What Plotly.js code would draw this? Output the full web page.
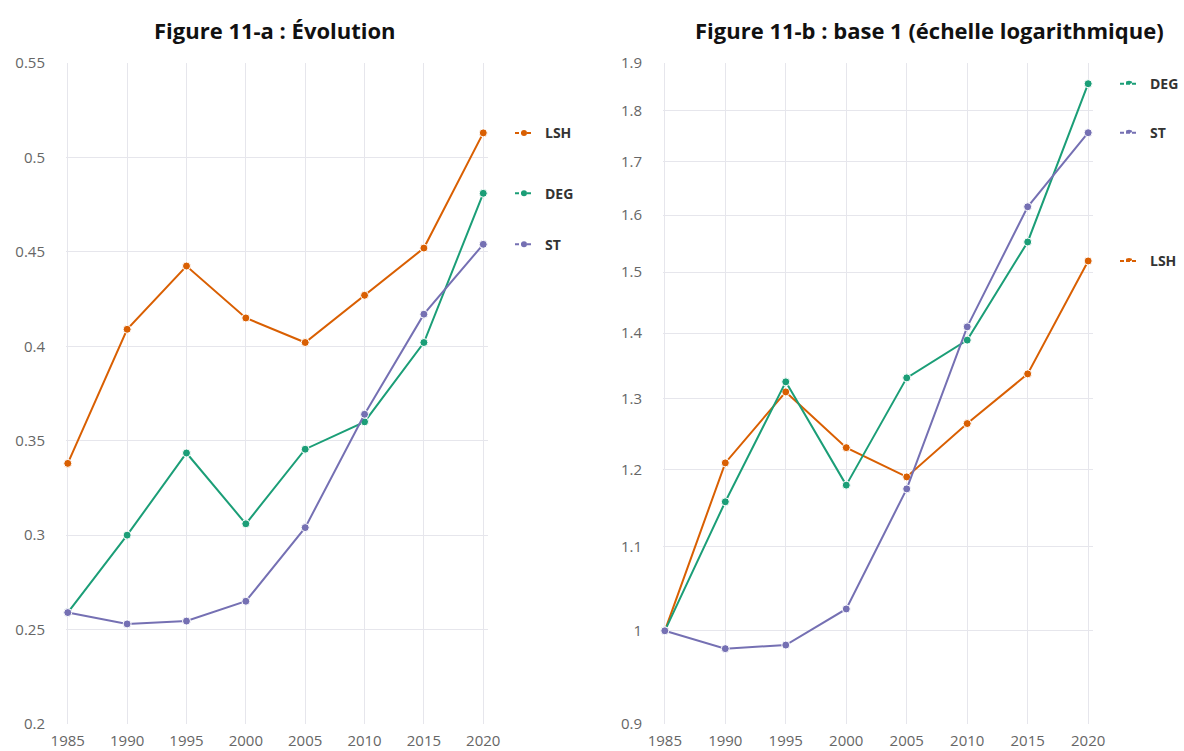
<!DOCTYPE html>
<html>
<head>
<meta charset="utf-8">
<script src="https://cdn.plot.ly/plotly-3.0.1.min.js"></script>
<style>html,body{margin:0;padding:0;background:#fff}#chart{width:1184px;height:751px}</style>
</head>
<body>
<div id="chart"></div>
<script>
const years = [1985, 1990, 1995, 2000, 2005, 2010, 2015, 2020];
// Figure 11-a : levels
const lshLevel = [0.338, 0.409, 0.4425, 0.415, 0.402, 0.427, 0.452, 0.513];
const degLevel = [0.259, 0.300, 0.3435, 0.306, 0.3455, 0.360, 0.402, 0.481];
const stLevel  = [0.259, 0.253, 0.2545, 0.265, 0.304, 0.364, 0.417, 0.454];
// Figure 11-b : base 1 (log)
const lshBase = [1.0, 1.209, 1.310, 1.230, 1.190, 1.264, 1.337, 1.519];
const degBase = [1.0, 1.157, 1.325, 1.179, 1.331, 1.389, 1.552, 1.856];
const stBase  = [1.0, 0.980, 0.984, 1.025, 1.174, 1.410, 1.615, 1.756];

const seriesNames = ['LSH', 'DEG', 'ST'];
const colors = {LSH: '#d95f02', DEG: '#1b9e77', ST: '#7570b3'};
const leftTicks = [0.2, 0.25, 0.3, 0.35, 0.4, 0.45, 0.5, 0.55];
const rightTicks = [0.9, 1, 1.1, 1.2, 1.3, 1.4, 1.5, 1.6, 1.7, 1.8, 1.9];
const titles = ['Figure 11-a : Évolution', 'Figure 11-b : base 1 (échelle logarithmique)'];

const leftData = {LSH: lshLevel, DEG: degLevel, ST: stLevel};
const rightData = {LSH: lshBase, DEG: degBase, ST: stBase};

function mk(name, y, xa, ya) {
  return {
    x: years, y: y, xaxis: xa, yaxis: ya, name: name, type: 'scatter', mode: 'lines+markers',
    line: {color: colors[name], width: 2},
    marker: {color: colors[name], size: 8, line: {color: '#fff', width: 1}},
    cliponaxis: false, showlegend: false, hoverinfo: 'x+y'
  };
}
const traces = [];
seriesNames.forEach(n => traces.push(mk(n, leftData[n], 'x', 'y')));
seriesNames.forEach(n => traces.push(mk(n, rightData[n], 'x2', 'y2')));

const annotations = [];
const shapes = [];
function endLabel(name, yv, xa, ya, isLog) {
  // annotations on log axes take log10 positions; shapes take data values
  const yAnn = isLog ? Math.log10(yv) : yv;
  const last = years[years.length - 1];
  const xd = xa + ' domain';
  shapes.push({type: 'line', xref: xd, yref: ya, xsizemode: 'pixel', xanchor: 1,
    x0: 27, x1: 45, y0: yv, y1: yv, line: {color: colors[name], width: 2, dash: '4px,2px'}});
  shapes.push({type: 'circle', xref: xd, yref: ya, xsizemode: 'pixel', ysizemode: 'pixel',
    xanchor: 1, yanchor: yv, x0: 33, x1: 39, y0: -3, y1: 3,
    fillcolor: colors[name], line: {color: colors[name], width: 0}});
  annotations.push({xref: xa, yref: ya, x: last, y: yAnn, xshift: 60, xanchor: 'left', yanchor: 'middle',
    showarrow: false, text: '<b>' + name + '</b>', font: {family: 'Open Sans, sans-serif', size: 14, color: '#333'}});
}
seriesNames.forEach(n => endLabel(n, leftData[n][years.length - 1], 'x', 'y', false));
seriesNames.forEach(n => endLabel(n, rightData[n][years.length - 1], 'x2', 'y2', true));

annotations.push({xref: 'paper', yref: 'paper', x: 275 / 1184, y: 1, yshift: 33, xanchor: 'center', yanchor: 'middle',
  showarrow: false, text: '<b>' + titles[0] + '</b>', font: {family: 'Open Sans, sans-serif', size: 22, color: '#111'}});
annotations.push({xref: 'paper', yref: 'paper', x: 929 / 1184, y: 1, yshift: 33, xanchor: 'center', yanchor: 'middle',
  showarrow: false, text: '<b>' + titles[1] + '</b>', font: {family: 'Open Sans, sans-serif', size: 22, color: '#111'}});

const tickFont = {family: 'Open Sans, sans-serif', size: 15, color: '#666'};
const xCommon = {tickvals: years, ticktext: years.map(String), showgrid: true, gridcolor: '#e6e6ec', gridwidth: 1,
  zeroline: false, showline: false, ticks: '', tickfont: tickFont, ticklabelstandoff: 6, fixedrange: true};
const layout = {
  width: 1184, height: 751,
  margin: {l: 0, r: 0, t: 63, b: 27},
  paper_bgcolor: '#fff', plot_bgcolor: '#fff',
  showlegend: false,
  xaxis: Object.assign({}, xCommon, {domain: [66 / 1184, 488 / 1184], range: [1984.85, 2020.4], anchor: 'y'}),
  xaxis2: Object.assign({}, xCommon, {domain: [663 / 1184, 1093 / 1184], range: [1984.85, 2020.4], anchor: 'y2'}),
  yaxis: {domain: [0, 1], range: [0.2, 0.55], tickvals: leftTicks, ticktext: leftTicks.map(String),
    showgrid: true, gridcolor: '#e6e6ec', zeroline: false, showline: false, ticks: '', tickfont: tickFont,
    ticklabelstandoff: 20, anchor: 'x'},
  yaxis2: {domain: [0, 1], type: 'log', range: [Math.log10(0.9), Math.log10(1.9)], tickvals: rightTicks,
    ticktext: rightTicks.map(String), showgrid: true, gridcolor: '#e6e6ec', zeroline: false, showline: false,
    ticks: '', tickfont: tickFont, ticklabelstandoff: 20, anchor: 'x2'},
  annotations: annotations,
  shapes: shapes
};
Plotly.newPlot('chart', traces, layout, {displayModeBar: false, staticPlot: true});
</script>
</body>
</html>
